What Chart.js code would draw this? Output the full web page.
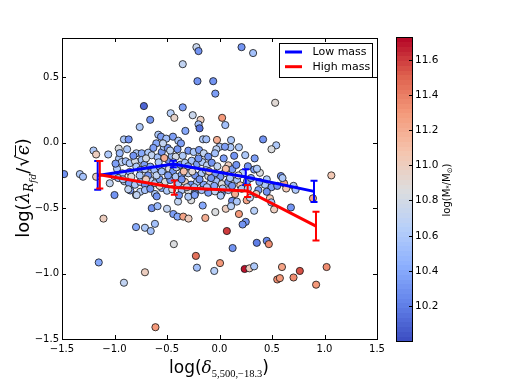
<!DOCTYPE html>
<html><head><meta charset="utf-8">
<script src="https://cdn.jsdelivr.net/npm/chart.js@4/dist/chart.umd.min.js"></script>
<style>html,body{margin:0;padding:0;background:#fff;}#wrap{width:506px;height:379px;}</style>
</head><body><div id="wrap"><canvas id="c" width="506" height="379"></canvas></div>
<script>
// ---------- DATA ----------
const pointX = [
-0.22,-0.20,-0.35,-0.21,-0.06,-0.04,-0.72,-0.465,-0.35,-0.66,-0.76,-0.18,-0.255,-0.43,-0.20,-0.19,0.025,0.055,-0.325,-0.91,
-0.865,-1.48,-1.33,-1.30,-1.20,-1.175,-1.06,-0.96,-1.175,-1.045,0.21,0.32,0.53,0.415,0.54,0.495,0.11,0.105,0.185,0.14,
0.245,0.335,1.065,0.585,0.33,0.385,0.615,0.635,0.705,0.725,0.495,0.45,0.48,0.89,0.68,0.52,0.33,0.185,0.25,0.22,
0.07,0.355,0.45,0.47,0.125,0.005,0.24,0.285,0.33,0.595,0.765,1.02,0.55,0.575,0.705,0.92,0.12,0.165,0.06,0.11,
-1.0,-0.85,-0.795,-0.755,-0.645,-0.59,-1.105,-0.795,-0.71,-0.655,-0.615,-0.50,-0.44,-0.40,-0.395,-0.345,-0.295,-0.27,-0.16,-0.135,
-0.04,-0.435,-0.225,-0.215,-0.05,-1.15,-0.71,-0.91,-0.61,
-0.583,-0.557,-0.507,-0.443,-0.792,-0.741,-0.678,-0.646,-0.957,-0.931,-0.893,-0.855,-0.805,-0.741,-0.716,-0.589,-0.550,-0.531,-0.493,-0.602,
-0.538,-0.488,-0.455,-0.417,-0.976,-0.926,-0.855,-1.002,-0.964,-0.792,-0.754,-0.710,-0.659,-0.621,-0.570,-0.526,-0.481,-0.443,-0.392,-0.907,
-0.862,-0.805,-0.754,-0.710,-0.659,-0.614,-0.570,-0.519,-0.469,-0.869,-0.710,-0.659,-0.614,-0.550,-0.500,-0.450,-0.526,
-0.392,-0.367,-0.157,-0.126,-0.024,0.002,-0.030,0.052,-0.297,-0.246,-0.195,-0.150,-0.107,-0.043,-0.411,-0.373,-0.329,-0.265,-0.214,-0.164,
-0.119,-0.074,0.084,0.122,0.046,0.008,-0.417,-0.360,-0.297,-0.233,-0.170,-0.107,-0.043,-0.392,-0.329,-0.271,-0.214,-0.150,-0.088,-0.030,
0.021,0.084,0.167,0.198,0.262,0.357,0.433,0.370,-0.360,-0.297,-0.233,-0.170,-0.107,-0.043,0.021,0.084,0.148,0.211,-0.386,-0.297,
0.350,-0.789,-0.598,-0.236,0.011,0.259,0.290,0.493,
-0.95,-0.88,-0.82,-0.70,-0.63,-0.58,-0.47,-0.40,-0.35,-0.30,-0.26,-0.20,-0.13,-0.08,-0.02,0.04,0.10,0.16,0.22,0.30,
-0.99,-0.92,-0.84,-0.76,-0.68,-0.60,-0.55,-0.49,-0.44,-0.36,-0.31,-0.24,-0.19,-0.12,-0.05,0.03,0.12,0.18,0.27,0.38,
-0.70,-0.57,-0.34,-0.10,0.06,0.27,0.45,0.55,0.60
];
const pointY = [
0.73,0.70,0.60,0.47,0.47,0.375,0.28,0.225,0.27,0.175,0.12,0.175,0.21,0.19,0.14,0.11,0.19,0.135,0.09,0.025,
0.025,-0.24,-0.24,-0.26,-0.06,-0.09,-0.09,-0.045,-0.26,-0.31,0.73,0.685,0.305,0.025,-0.02,-0.05,0.02,-0.035,-0.035,-0.10,
-0.095,-0.12,-0.25,-0.255,-0.205,-0.23,-0.31,-0.35,-0.33,-0.36,-0.34,-0.375,-0.425,-0.425,-0.495,-0.51,-0.52,-0.545,-0.605,-0.625,
-0.675,-0.765,-0.75,-0.775,-0.805,-0.92,-0.965,-0.96,-0.945,-0.95,-0.98,-0.95,-1.045,-1.035,-1.03,-1.085,-0.445,-0.45,-0.505,-0.485,
-0.40,-0.365,-0.40,-0.375,-0.50,-0.485,-0.58,-0.645,-0.65,-0.675,-0.62,-0.505,-0.545,-0.565,-0.45,-0.565,-0.58,-0.44,-0.48,-0.575,
-0.53,-0.775,-0.865,-0.955,-0.98,-0.915,-0.99,-1.07,-1.41,
0.061,0.046,0.031,0.046,-0.081,-0.081,-0.076,-0.096,-0.122,-0.148,-0.142,-0.157,-0.142,-0.132,-0.168,-0.112,-0.071,-0.031,-0.041,-0.005,
-0.005,-0.132,-0.102,-0.107,-0.199,-0.234,-0.224,-0.255,-0.270,-0.183,-0.209,-0.203,-0.183,-0.209,-0.183,-0.209,-0.199,-0.219,-0.183,-0.295,
-0.310,-0.321,-0.300,-0.321,-0.285,-0.310,-0.280,-0.300,-0.285,-0.356,-0.362,-0.352,-0.392,-0.346,-0.367,-0.356,-0.117,
0.015,-0.005,0.026,0.026,0.021,-0.031,-0.050,-0.031,-0.061,-0.071,-0.056,-0.081,-0.107,-0.081,-0.188,-0.168,-0.153,-0.138,-0.163,-0.148,
-0.173,-0.153,-0.173,-0.203,-0.234,-0.260,-0.260,-0.245,-0.234,-0.249,-0.234,-0.255,-0.234,-0.310,-0.300,-0.321,-0.300,-0.321,-0.310,-0.295,
-0.316,-0.300,-0.285,-0.326,-0.295,-0.199,-0.321,-0.362,-0.362,-0.367,-0.387,-0.362,-0.382,-0.372,-0.387,-0.362,-0.392,-0.352,-0.402,-0.413,
-0.392,-0.400,-0.410,-0.400,-0.405,-0.440,-0.420,-0.456,
-0.08,-0.05,-0.10,-0.12,-0.04,-0.15,-0.06,-0.05,-0.10,-0.18,-0.22,-0.12,-0.21,-0.27,-0.18,-0.12,-0.27,-0.17,-0.23,-0.27,
-0.16,-0.28,-0.26,-0.25,-0.25,-0.25,-0.22,-0.25,-0.15,-0.28,-0.34,-0.34,-0.28,-0.34,-0.33,-0.35,-0.33,-0.25,-0.35,-0.30,
-0.28,-0.33,-0.22,-0.22,-0.20,-0.18,-0.28,-0.33,-0.27
];
const pointMass = [
10.75,10.3,10.7,10.3,10.3,10.35,10.1,10.65,10.35,10.3,10.6,11.0,10.75,10.95,10.55,10.15,11.3,10.55,10.4,10.6,
10.3,10.3,10.6,10.55,10.6,11.0,10.6,10.85,11.0,10.7,10.3,10.55,10.9,10.3,10.6,10.85,10.6,10.6,10.6,10.3,
10.6,10.35,11.05,10.3,10.35,10.85,11.25,11.05,10.6,10.6,10.35,10.3,11.05,11.25,10.3,11.0,10.65,11.3,10.3,10.3,
11.6,10.2,10.25,11.35,10.3,11.3,11.7,11.0,10.6,11.25,11.55,11.35,11.35,11.3,11.35,11.3,10.3,10.6,11.0,10.65,
10.3,10.35,10.6,10.65,10.3,10.5,11.0,10.4,10.6,10.55,10.55,10.7,10.35,10.4,10.7,11.25,11.0,10.85,10.4,11.2,
10.85,10.85,11.45,10.55,10.65,10.4,11.0,10.7,11.3,
10.6,10.35,10.55,10.35,10.6,10.4,10.6,10.7,10.6,10.7,10.55,10.6,10.8,10.55,10.35,10.55,10.3,10.6,10.3,10.4,
10.7,10.3,10.5,10.8,10.6,10.7,10.55,10.6,10.55,10.6,10.35,10.7,10.4,10.55,10.3,10.6,10.85,10.3,10.55,10.7,
10.35,10.6,10.55,10.3,10.7,10.6,10.35,10.85,10.3,10.7,10.55,10.3,10.6,10.4,10.6,10.85,11.2,
10.6,10.35,10.6,10.55,11.2,10.6,10.7,10.35,10.3,10.6,10.35,10.7,10.3,10.55,10.7,10.3,10.6,10.55,10.35,10.6,
10.7,10.3,11.0,10.35,10.55,10.3,10.6,10.4,10.7,10.3,10.6,10.85,10.35,10.55,11.0,10.3,10.6,10.4,10.7,10.55,
10.85,10.3,10.6,11.05,10.35,10.6,10.6,10.35,10.6,10.85,10.3,10.55,10.35,10.7,10.3,10.6,11.2,10.6,10.3,10.6,
11.0,10.7,10.3,10.35,10.6,11.25,10.7,10.55,
10.5,10.6,10.3,10.8,10.35,10.6,10.7,10.3,10.6,10.4,10.9,10.3,10.6,10.3,10.7,10.35,10.6,10.3,10.65,10.4,
10.35,10.6,10.85,10.6,10.3,10.7,10.55,10.35,10.6,10.3,10.7,10.55,10.3,10.6,10.4,10.6,10.3,10.85,10.6,10.35,
11.0,10.9,11.1,11.0,11.1,10.3,10.6,10.3,10.6
];
const seriesNames = ['Low mass', 'High mass'];
const lowX = [-1.16, -0.44, 0.25, 0.90];
const lowY = [-0.25, -0.163, -0.262, -0.372];
const lowErr = [0.11, 0.025, 0.06, 0.082];
const highX = [-1.14, -0.43, 0.268, 0.919];
const highY = [-0.245, -0.343, -0.369, -0.637];
const highErr = [0.105, 0.055, 0.045, 0.11];
const xTicks = [-1.5, -1.0, -0.5, 0.0, 0.5, 1.0, 1.5];
const yTicks = [-1.5, -1.0, -0.5, 0.0, 0.5];
const cbTicks = [10.2, 10.4, 10.6, 10.8, 11.0, 11.2, 11.4, 11.6];
const massMin = 10.0, massMax = 11.73;

// ---------- COLORMAP (coolwarm) ----------
const cmStops = [
 [0.0,[59,76,192]],[0.125,[98,130,234]],[0.25,[141,176,254]],[0.375,[184,208,249]],
 [0.5,[221,221,221]],[0.625,[245,196,173]],[0.75,[244,154,123]],[0.875,[222,96,77]],[1.0,[180,4,38]]
];
function cmap(t){
  t = Math.max(0, Math.min(1, t));
  for (let i=1;i<cmStops.length;i++){
    if (t <= cmStops[i][0]){
      const a=cmStops[i-1], b=cmStops[i];
      const f=(t-a[0])/(b[0]-a[0]);
      const c=a[1].map((v,k)=>Math.round(v+(b[1][k]-v)*f));
      return `rgb(${c[0]},${c[1]},${c[2]})`;
    }
  }
  return 'rgb(180,4,38)';
}
const massColor = m => cmap((m-massMin)/(massMax-massMin));
const fmt = v => (v<0?'\u2212':'') + Math.abs(v).toFixed(1);

const scatterData = pointX.map((x,i)=>({x, y: pointY[i]}));
const lowData = lowX.map((x,i)=>({x, y: lowY[i], e: lowErr[i]}));
const highData = highX.map((x,i)=>({x, y: highY[i], e: highErr[i]}));

function drawRuns(ctx, runs, x, y){
  let total = 0;
  runs.forEach(r=>{ ctx.font=r.f; r.w = ctx.measureText(r.t).width + (r.sp||0); total += r.w; });
  let cx = x - total/2;
  runs.forEach(r=>{
    ctx.font=r.f; ctx.fillText(r.t, cx, y + (r.dy||0));
    if (r.over){ ctx.fillRect(cx-1, y + r.over, r.w+1, 1); }
    cx += r.w;
  });
}

const plug = {
  id: 'decor',
  afterDatasetDraw(chart, args){
    const ds = chart.data.datasets[args.index];
    if (!ds.err) return;
    const ctx = chart.ctx, xs = chart.scales.x, ys = chart.scales.y;
    ctx.save();
    ctx.strokeStyle = ds.borderColor; ctx.lineWidth = 2;
    ds.data.forEach(p=>{
      const px = xs.getPixelForValue(p.x);
      const y1 = ys.getPixelForValue(p.y + p.e), y2 = ys.getPixelForValue(p.y - p.e);
      ctx.beginPath();
      ctx.moveTo(px, y1); ctx.lineTo(px, y2);
      ctx.moveTo(px-3.5, y1); ctx.lineTo(px+3.5, y1);
      ctx.moveTo(px-3.5, y2); ctx.lineTo(px+3.5, y2);
      ctx.stroke();
    });
    ctx.restore();
  },
  afterDraw(chart){
    const ctx = chart.ctx, a = chart.chartArea, xs = chart.scales.x, ys = chart.scales.y;
    ctx.save();
    // frame
    ctx.strokeStyle = '#000'; ctx.lineWidth = 1;
    ctx.strokeRect(Math.round(a.left)+0.5, Math.round(a.top)+0.5, Math.round(a.right-a.left), Math.round(a.bottom-a.top));
    // inward ticks on all sides
    ctx.beginPath();
    xTicks.forEach(v=>{
      const px = Math.round(xs.getPixelForValue(v))+0.5;
      ctx.moveTo(px, a.bottom); ctx.lineTo(px, a.bottom-4);
      ctx.moveTo(px, a.top); ctx.lineTo(px, a.top+4);
    });
    yTicks.forEach(v=>{
      const py = Math.round(ys.getPixelForValue(v))+0.5;
      ctx.moveTo(a.left, py); ctx.lineTo(a.left+4, py);
      ctx.moveTo(a.right, py); ctx.lineTo(a.right-4, py);
    });
    ctx.stroke();

    // legend
    const lx = 279, ly = 43, lw = 93, lh = 34;
    ctx.fillStyle = '#fff'; ctx.fillRect(lx, ly, lw, lh);
    ctx.strokeStyle = '#000'; ctx.lineWidth = 1; ctx.strokeRect(lx+0.5, ly+0.5, lw, lh);
    const legCols = ['#0000ff', '#ff0000'];
    seriesNames.forEach((n,i)=>{
      const yy = 52 + i*14.7;
      ctx.strokeStyle = legCols[i]; ctx.lineWidth = 3;
      ctx.beginPath(); ctx.moveTo(285, yy); ctx.lineTo(302, yy); ctx.stroke();
      ctx.fillStyle = '#000'; ctx.font = '11px "DejaVu Sans"'; ctx.textBaseline = 'middle'; ctx.textAlign='left';
      ctx.fillText(n, 312.5, yy+0.5);
    });

    // colorbar
    const cbL = 396, cbR = 412, cbT = 37, cbB = 341;
    const nb = 64;
    for (let i=0;i<nb;i++){
      const y0 = cbB - (cbB-cbT)*i/nb, y1 = cbB - (cbB-cbT)*(i+1)/nb;
      ctx.fillStyle = cmap((i+0.5)/nb);
      ctx.fillRect(cbL, Math.floor(y1), cbR-cbL, Math.ceil(y0)-Math.floor(y1));
    }
    ctx.strokeStyle = '#000'; ctx.lineWidth = 1;
    ctx.strokeRect(cbL+0.5, cbT+0.5, cbR-cbL, cbB-cbT);
    ctx.fillStyle = '#000'; ctx.font = '10.5px "DejaVu Sans"'; ctx.textAlign='left'; ctx.textBaseline='middle';
    cbTicks.forEach(v=>{
      const py = Math.round(cbB - (v-massMin)/(massMax-massMin)*(cbB-cbT))+0.5;
      ctx.beginPath(); ctx.moveTo(cbR-3, py); ctx.lineTo(cbR+1, py); ctx.stroke();
      ctx.fillText(v.toFixed(1), 415, py);
    });
    // colorbar label
    ctx.save();
    ctx.translate(447, 190); ctx.rotate(-Math.PI/2);
    ctx.textBaseline='middle'; ctx.textAlign='left';
    drawRuns(ctx, [
      {t:'log(M', f:'10px "DejaVu Sans"'},
      {t:'*', f:'7px "DejaVu Sans"', dy:2},
      {t:'/M', f:'10px "DejaVu Sans"'},
      {t:'\u2299', f:'7px "DejaVu Sans"', dy:3},
      {t:')', f:'10px "DejaVu Sans"'}
    ], 0, 0);
    ctx.restore();

    // x-axis label
    ctx.fillStyle='#000'; ctx.textBaseline='alphabetic'; ctx.textAlign='left';
    drawRuns(ctx, [
      {t:'log(', f:'17px "DejaVu Sans"'},
      {t:'\u03b4', f:'italic 17px "DejaVu Serif"'},
      {t:'5,500,\u221218.3', f:'10.5px "Liberation Serif"', dy:4},
      {t:')', f:'17px "DejaVu Sans"'}
    ], 219, 373);

    // y-axis label
    ctx.save();
    ctx.translate(29, 188); ctx.rotate(-Math.PI/2);
    drawRuns(ctx, [
      {t:'log(', f:'18px "DejaVu Sans"'},
      {t:'\u03bb', f:'italic 18px "DejaVu Serif"'},
      {t:'R', f:'italic 12px "DejaVu Serif"', dy:4},
      {t:'fd', f:'italic 9px "DejaVu Serif"', dy:7},
      {t:'/', f:'18px "DejaVu Sans"', sp:1},
      {t:'\u221a', f:'18px "DejaVu Sans"'},
      {t:'\u03f5', f:'italic 18px "DejaVu Serif"', over:-14},
      {t:')', f:'18px "DejaVu Sans"'}
    ], 0, 0);
    ctx.restore();
    ctx.restore();
  }
};

new Chart(document.getElementById('c'), {
  type: 'scatter',
  data: { datasets: [
    { label: seriesNames[1], data: highData, type:'line', showLine:true, borderColor:'#ff0000', backgroundColor:'#ff0000',
      borderWidth:3, pointRadius:0, err:true, order:1, fill:false, tension:0 },
    { label: seriesNames[0], data: lowData, type:'line', showLine:true, borderColor:'#0000ff', backgroundColor:'#0000ff',
      borderWidth:3, pointRadius:0, err:true, order:2, fill:false, tension:0 },
    { label: 'galaxies', data: scatterData, order:3,
      pointRadius:3.6, pointHoverRadius:3.6, pointBorderWidth:0.8, pointBorderColor:'#111',
      pointBackgroundColor: pointMass.map(massColor) }
  ]},
  options: {
    responsive:false, animation:false, devicePixelRatio:1,
    layout:{ padding:{ left:0, top:38, right:129, bottom:0 } },
    plugins:{ legend:{display:false}, tooltip:{enabled:false} },
    scales:{
      x:{ type:'linear', min:-1.5, max:1.5,
        afterBuildTicks: s=>{ s.ticks = xTicks.map(v=>({value:v})); },
        afterFit: s=>{ s.height = 40; },
        grid:{display:false, drawTicks:false}, border:{display:false},
        ticks:{ padding:4, color:'#000', font:{family:'DejaVu Sans', size:10}, callback: v=>fmt(v), maxRotation:0, autoSkip:false } },
      y:{ type:'linear', min:-1.5, max:0.8,
        afterBuildTicks: s=>{ s.ticks = yTicks.map(v=>({value:v})); },
        afterFit: s=>{ s.width = 62; },
        grid:{display:false, drawTicks:false}, border:{display:false},
        ticks:{ padding:3, color:'#000', font:{family:'DejaVu Sans', size:10}, callback: v=>fmt(v), autoSkip:false } }
    }
  },
  plugins:[plug]
});
</script>
</body></html>
